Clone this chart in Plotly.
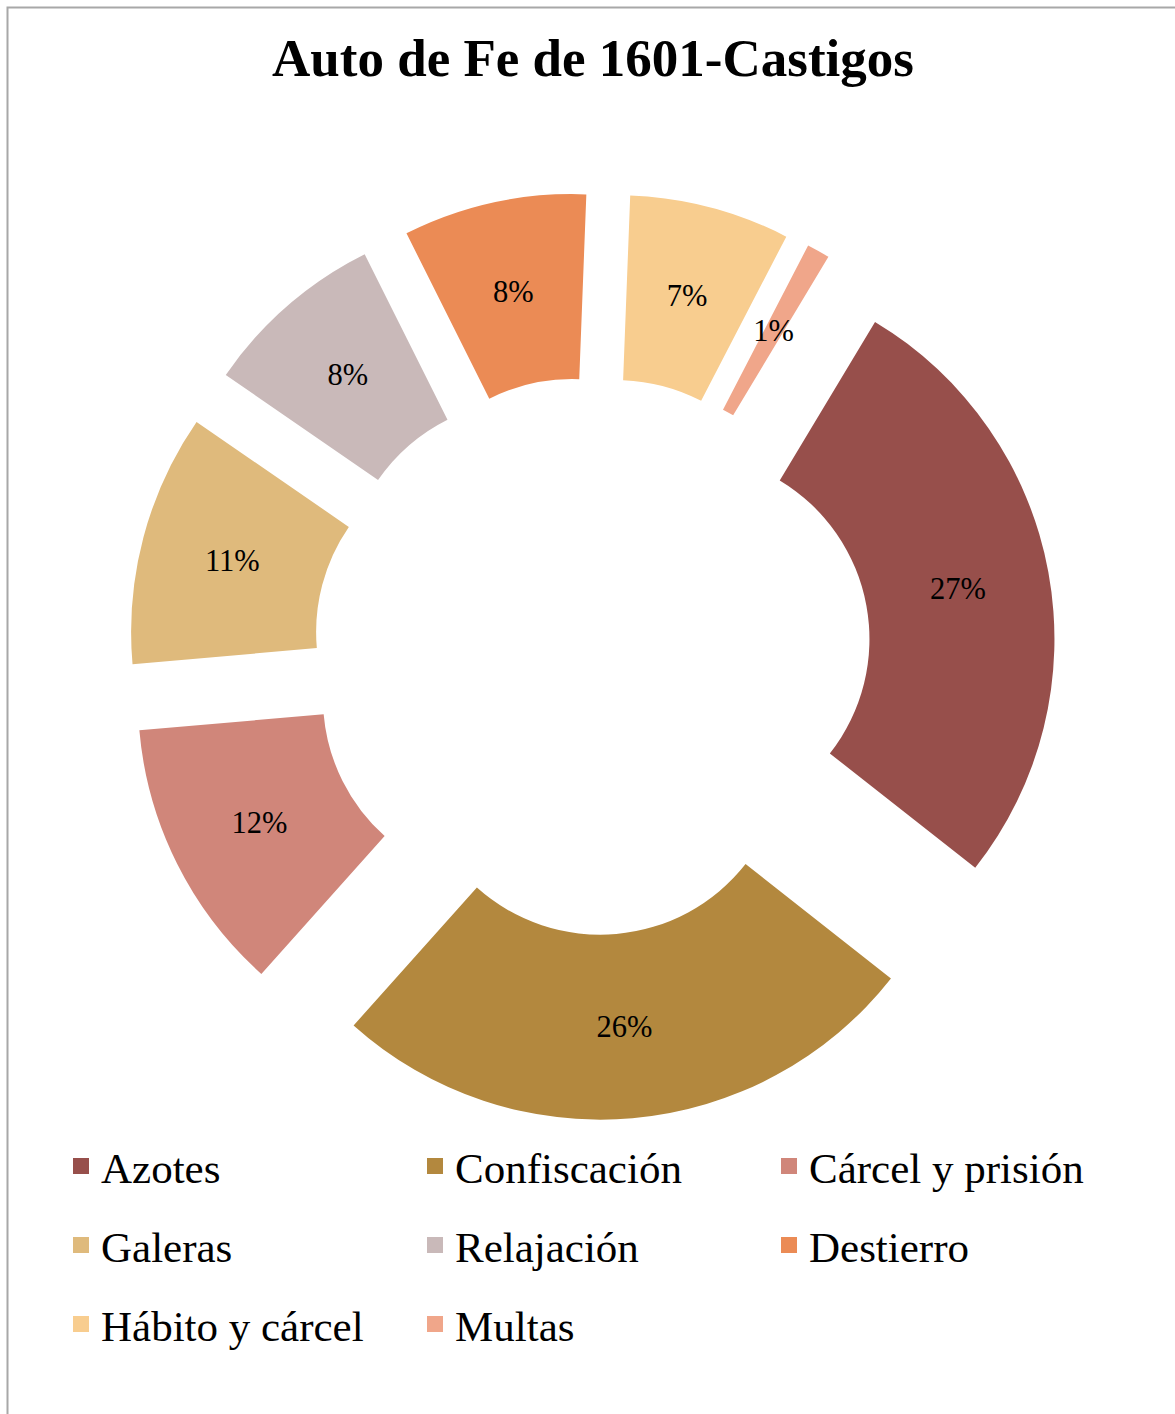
import plotly.graph_objects as go

# ---- data ----
labels = ["Azotes", "Confiscación", "Cárcel y prisión", "Galeras",
          "Relajación", "Destierro", "Hábito y cárcel", "Multas"]
values = [27, 26, 12, 11, 8, 8, 7, 1]
colors = ["#974F4B", "#B3883E", "#D0867A", "#DFBA7C",
          "#C9B9B9", "#EB8B55", "#F8CD8F", "#F0A68A"]
title_text = "Auto de Fe de 1601-Castigos"

W, H = 1175, 1414
SERIF = "Liberation Serif, Times New Roman, serif"
CX, CY = 592, 656          # pie centre (px)
R_OUT, PULL_PX = 370, 94   # outer radius and explode offset (px)
R_LABEL = 278              # label distance from slice centre (px)
LABEL_FMT = "%{percent:.0%}"
thin_ring_labels = ["Multas"]   # slices too narrow to hold their label

common = dict(labels=labels, values=values, sort=False,
              direction="clockwise", rotation=31, showlegend=False)
xdom = [(2 * CX - W) / W, 1]


def ydom(r, pull_px):
    box = 2 * r + 2 * pull_px
    return [1 - (CY + box / 2) / H, 1 - (CY - box / 2) / H]


fig = go.Figure()
# main donut (no text)
fig.add_trace(go.Pie(
    **common,
    hole=0.5, pull=[PULL_PX / R_OUT] * len(values),
    marker=dict(colors=colors, line=dict(width=0)),
    textinfo="none",
    domain=dict(x=xdom, y=ydom(R_OUT, PULL_PX)),
))


def label_ring(ring, show):
    r = R_LABEL / (1 - ring / 2)
    return go.Pie(
        **common,
        hole=1 - ring, pull=[PULL_PX / r] * len(values),
        marker=dict(colors=["rgba(0,0,0,0)"] * len(values), line=dict(width=0)),
        texttemplate=[LABEL_FMT if s else "" for s in show],
        textposition="inside", insidetextorientation="horizontal",
        textfont=dict(family=SERIF, size=30.5, color="black"),
        hoverinfo="skip",
        domain=dict(x=xdom, y=ydom(r, PULL_PX)),
    )


# transparent rings that place the percentage labels at mid-ring radius
fig.add_trace(label_ring(0.30, [l not in thin_ring_labels for l in labels]))
fig.add_trace(label_ring(0.06, [l in thin_ring_labels for l in labels]))

# legend entries (three rows, three columns)
rows = [labels[0:3], labels[3:6], labels[6:8]]
legend_names = ["legend", "legend2", "legend3"]
for ri, row in enumerate(rows):
    for lab in row:
        i = labels.index(lab)
        fig.add_trace(go.Scatter(
            x=[None], y=[None], mode="markers", name=lab,
            marker=dict(symbol="square", size=22, color=colors[i]),
            legend=legend_names[ri], showlegend=True, hoverinfo="skip",
        ))

row_y = [1166, 1245, 1324]
leg_common = dict(orientation="h", xanchor="left", yanchor="middle",
                  x=61 / W, font=dict(family=SERIF, size=43, color="black"),
                  entrywidth=309, entrywidthmode="pixels",
                  bgcolor="rgba(0,0,0,0)", itemsizing="trace")
fig.update_layout(
    legend=dict(leg_common, y=1 - row_y[0] / H),
    legend2=dict(leg_common, y=1 - row_y[1] / H),
    legend3=dict(leg_common, y=1 - row_y[2] / H),
)

fig.update_layout(
    width=W, height=H,
    margin=dict(l=0, r=0, t=0, b=0),
    paper_bgcolor="white", plot_bgcolor="white",
    title=dict(text=title_text, x=593 / W, xanchor="center",
               y=1 - 57 / H, yanchor="middle", yref="container",
               font=dict(family=SERIF, size=53, color="black", weight="bold")),
    uniformtext=dict(minsize=30.5, mode="show"),
    xaxis=dict(visible=False), yaxis=dict(visible=False),
    shapes=[dict(type="rect", xref="paper", yref="paper",
                 x0=7.5 / W, x1=1.05, y0=-0.05, y1=1 - 7.5 / H,
                 line=dict(color="#A8A8A8", width=2), layer="below")],
)

fig.write_html("out.html")
